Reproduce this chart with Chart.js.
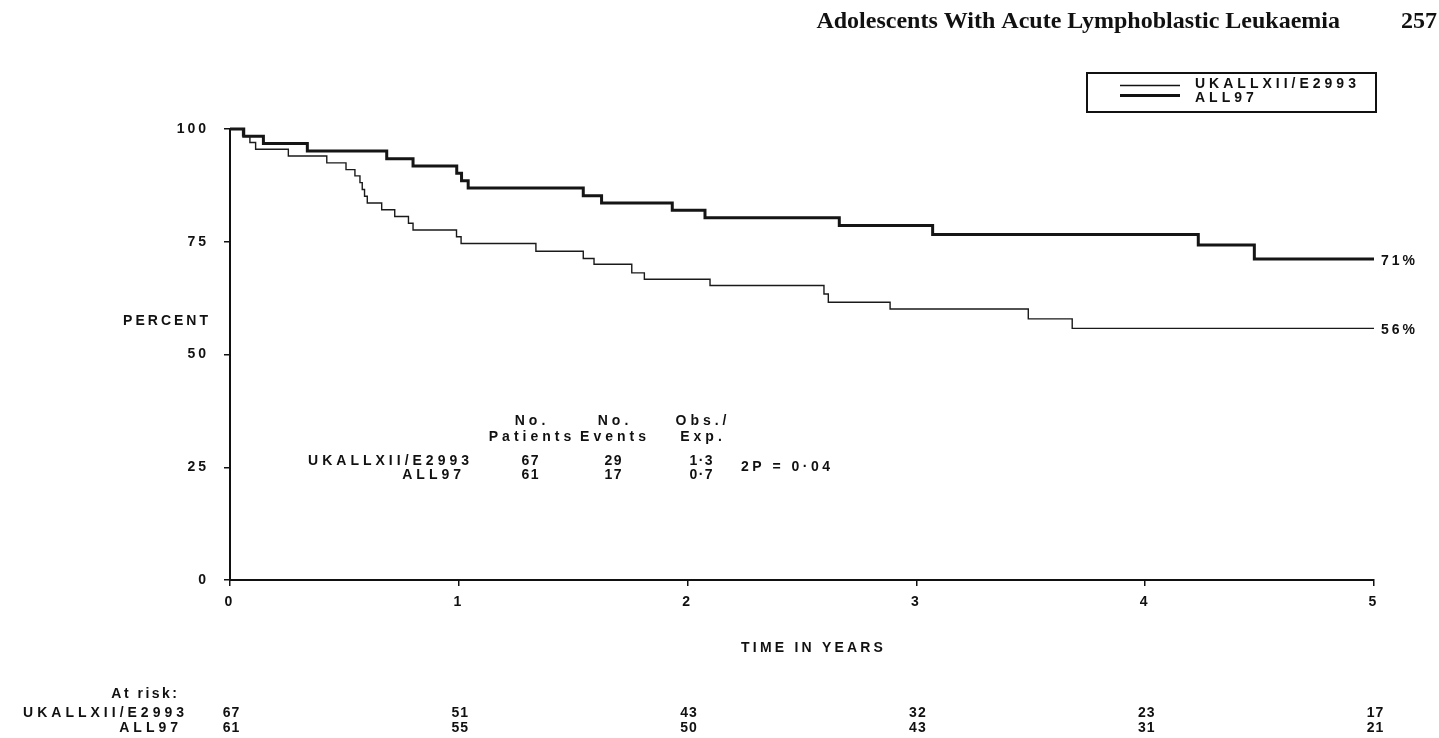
<!DOCTYPE html>
<html><head><meta charset="utf-8">
<script src="https://cdn.jsdelivr.net/npm/chart.js@4.4.1/dist/chart.umd.min.js"></script>
<style>html,body{margin:0;padding:0;background:#fff;}canvas{display:block;}</style>
</head><body>
<canvas id="c" width="1439" height="738"></canvas>
<script>
// ---- data ----
const ukTimes = [0, 0.055, 0.087, 0.112, 0.255, 0.423, 0.507, 0.546, 0.568, 0.578, 0.588, 0.600, 0.663, 0.720, 0.780, 0.800, 0.990, 1.010, 1.337, 1.544, 1.591, 1.756, 1.811, 2.098, 2.596, 2.615, 2.885, 3.489, 3.681, 5.0];
const ukSurv  = [100, 98.5, 97.0, 95.5, 94.0, 92.5, 91.0, 89.6, 88.1, 86.6, 85.1, 83.6, 82.1, 80.6, 79.1, 77.6, 76.1, 74.6, 72.9, 71.3, 70.0, 68.1, 66.7, 65.3, 63.4, 61.6, 60.1, 57.9, 55.8, 55.8];
const allTimes = [0, 0.06, 0.146, 0.338, 0.685, 0.80, 0.991, 1.012, 1.041, 1.544, 1.624, 1.933, 2.076, 2.663, 3.071, 4.232, 4.477, 5.0];
const allSurv  = [100, 98.4, 96.8, 95.1, 93.4, 91.8, 90.2, 88.5, 86.9, 85.2, 83.6, 82.0, 80.3, 78.6, 76.6, 74.3, 71.2, 71.2];
const seriesNames = ['UKALLXII/E2993', 'ALL97'];
const endLabels = ['56%', '71%'];
const xTicks = [0, 1, 2, 3, 4, 5];
const yTicks = [0, 25, 50, 75, 100];
const atRiskYears = [0, 1, 2, 3, 4, 5];
const ukAtRisk = [67, 51, 43, 32, 23, 17];
const allAtRisk = [61, 55, 50, 43, 31, 21];
const tablePatients = [67, 61];
const tableEvents = [29, 17];
const tableObsExp = ['1·3', '0·7'];
const pText = '2P = 0·04';
const titleText = 'Adolescents With Acute Lymphoblastic Leukaemia';
const pageNum = '257';

const SANS = "'Liberation Sans', Arial, sans-serif";
const INK = '#111';
const F14 = 'bold 14px ' + SANS;

function txt(ctx, s, x, y, align, font, spacing) {
  const sp = (spacing == null ? 4 : spacing);
  ctx.save();
  ctx.font = font || F14;
  ctx.letterSpacing = sp + 'px';
  ctx.fillStyle = INK;
  ctx.textBaseline = 'middle';
  const w = ctx.measureText(s).width;
  let sx = x;
  if (align === 'right') sx = x - w + sp;
  else if (align === 'center') sx = x - w / 2 + sp / 2;
  ctx.textAlign = 'left';
  ctx.fillText(s, sx, y);
  ctx.restore();
}

const decor = {
  id: 'decor',
  beforeDraw(chart) {
    chart.ctx.letterSpacing = '3px';
  },
  afterDraw(chart) {
    const ctx = chart.ctx;
    const xs = chart.scales.x, ys = chart.scales.y;
    ctx.letterSpacing = '0px';
    const SERIF = "bold 24px 'Liberation Serif', 'Times New Roman', serif";
    txt(ctx, titleText, 1340, 22, 'right', SERIF, 0);
    txt(ctx, pageNum, 1437, 22, 'right', SERIF, 0);
    // axis titles
    txt(ctx, 'PERCENT', 208, 321, 'right', F14, 3);
    txt(ctx, 'TIME IN YEARS', (xs.left + xs.right) / 2 + 10, 648, 'center', F14, 3.2);
    // end labels
    txt(ctx, endLabels[0], xs.right + 7, ys.getPixelForValue(ukSurv[ukSurv.length - 1]) + 2, 'left', F14, 3);
    txt(ctx, endLabels[1], xs.right + 7, ys.getPixelForValue(allSurv[allSurv.length - 1]) + 2, 'left', F14, 3);
    // legend
    ctx.save();
    ctx.strokeStyle = INK; ctx.lineWidth = 2;
    ctx.strokeRect(1087, 73, 289, 39);
    ctx.beginPath(); ctx.lineWidth = 1.3; ctx.moveTo(1120, 85.5); ctx.lineTo(1180, 85.5); ctx.stroke();
    ctx.beginPath(); ctx.lineWidth = 3; ctx.moveTo(1120, 95.5); ctx.lineTo(1180, 95.5); ctx.stroke();
    ctx.restore();
    txt(ctx, seriesNames[0], 1195, 84, 'left');
    txt(ctx, seriesNames[1], 1195, 98, 'left');
    // summary table
    const cols = [530, 613, 701];
    txt(ctx, 'No.', cols[0], 421, 'center');
    txt(ctx, 'No.', cols[1], 421, 'center');
    txt(ctx, 'Obs./', cols[2], 421, 'center');
    txt(ctx, 'Patients', cols[0], 437, 'center');
    txt(ctx, 'Events', cols[1], 437, 'center');
    txt(ctx, 'Exp.', cols[2], 437, 'center');
    const rowsY = [461, 475];
    const rowRight = [469, 461];
    for (let i = 0; i < 2; i++) {
      txt(ctx, seriesNames[i], rowRight[i], rowsY[i], 'right');
      txt(ctx, String(tablePatients[i]), cols[0], rowsY[i], 'center', F14, 1.5);
      txt(ctx, String(tableEvents[i]), cols[1], rowsY[i], 'center', F14, 1.5);
      txt(ctx, tableObsExp[i], cols[2], rowsY[i], 'center', F14, 1.5);
    }
    txt(ctx, pText, 741, 467, 'left', F14, 3.5);
    // at risk
    txt(ctx, 'At risk:', 177, 694, 'right', F14, 2.5);
    txt(ctx, seriesNames[0], 184, 713, 'right');
    txt(ctx, seriesNames[1], 178, 728, 'right');
    for (let i = 0; i < atRiskYears.length; i++) {
      const px = xs.getPixelForValue(atRiskYears[i]);
      txt(ctx, String(ukAtRisk[i]), px + 1, 713, 'center', F14, 1);
      txt(ctx, String(allAtRisk[i]), px + 1, 728, 'center', F14, 1);
    }
  }
};

const tickFont = { family: SANS, size: 14, weight: 'bold' };
new Chart(document.getElementById('c'), {
  type: 'line',
  data: {
    datasets: [
      { label: seriesNames[0], data: ukTimes.map((t, i) => ({ x: t, y: ukSurv[i] })),
        borderColor: '#1a1a1a', borderWidth: 1.4, stepped: 'before', pointRadius: 0, fill: false, clip: 6 },
      { label: seriesNames[1], data: allTimes.map((t, i) => ({ x: t, y: allSurv[i] })),
        borderColor: '#151515', borderWidth: 3, stepped: 'before', pointRadius: 0, fill: false, clip: 6 }
    ]
  },
  options: {
    responsive: false, animation: false,
    layout: { padding: { left: 0, top: 129, right: 65, bottom: 118 } },
    plugins: { legend: { display: false }, tooltip: { enabled: false } },
    scales: {
      x: {
        type: 'linear', min: 0, max: 5,
        afterBuildTicks(s) { s.ticks = xTicks.map(v => ({ value: v })); },
        afterFit(s) { s.height = 40; },
        ticks: { color: INK, font: tickFont, padding: 8, maxRotation: 0 },
        grid: { drawOnChartArea: false, drawTicks: true, tickLength: 6, color: INK, lineWidth: 1.5 },
        border: { color: INK, width: 2 }
      },
      y: {
        type: 'linear', min: 0, max: 100,
        afterBuildTicks(s) { s.ticks = yTicks.map(v => ({ value: v })); },
        afterFit(s) { s.width = 230; },
        ticks: { color: INK, font: tickFont, padding: 15 },
        grid: { drawOnChartArea: false, drawTicks: true, tickLength: 6, color: INK, lineWidth: 1.5 },
        border: { color: INK, width: 2 }
      }
    }
  },
  plugins: [decor]
});
</script>
</body></html>
